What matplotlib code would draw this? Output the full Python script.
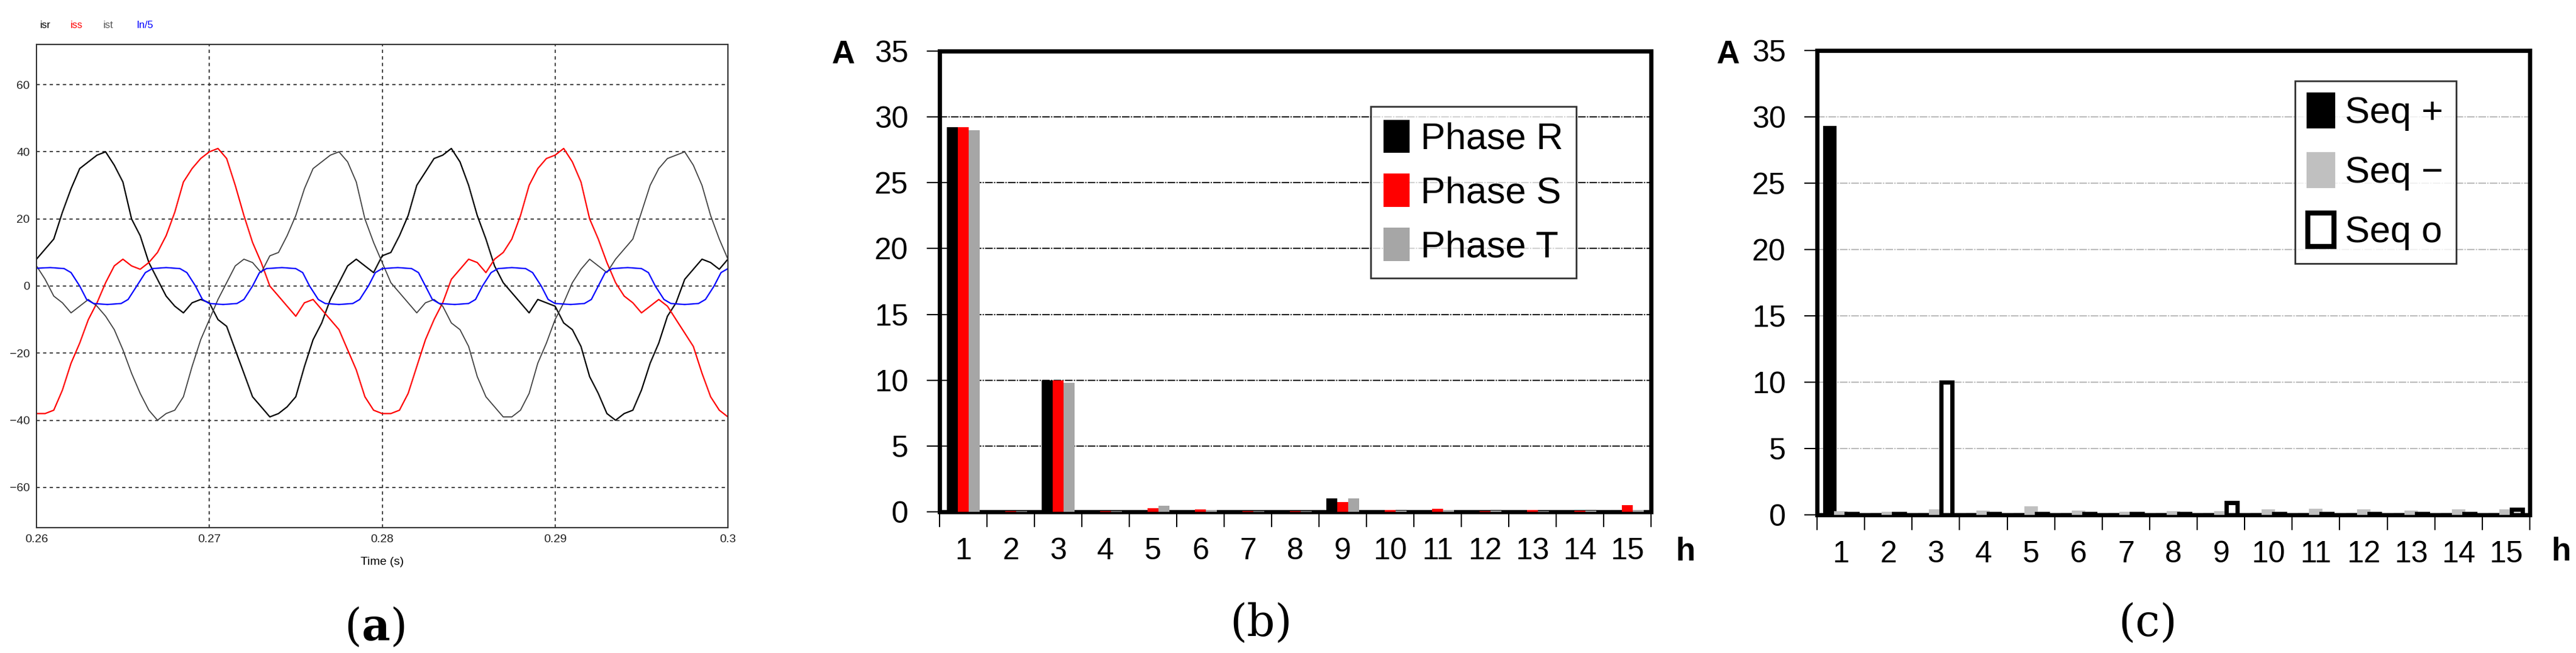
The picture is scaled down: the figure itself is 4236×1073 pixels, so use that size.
import numpy as np
import matplotlib
matplotlib.use("Agg")
import matplotlib.pyplot as plt
from matplotlib.patches import Patch

plt.rcParams['mathtext.fontset'] = 'dejavuserif'
W, H = 4236, 1073
NARROW = ['Liberation Sans Narrow', 'Liberation Sans', 'DejaVu Sans']

# ---------------- data (a) ----------------
t_ms = np.arange(81) * 0.5 + 260.0   # sample times in ms
isr = [8,11,14,22,29,35,37,39, 40,36,31,20,15,7,2,-3,-6,-8,-5,-4,-5,-10,-12,-19,-26,-33,-36,-39,-38,-36,-33,-24,-16,-11,-4,1,6,8,6,4,
       9,10,15,21,30,34,38,39, 41,37,30,21,14,6,1,-2,-5,-8,-4,-5,-6,-11,-13,-18,-27,-32,-38,-40,-38,-37,-31,-23,-17,-9,-5,2,5,8,7,5, 8]
iss = [-38,-38,-37,-31,-23,-17,-10,-5,1,6,8,6,5,7,10,15,22,31,35,38,40,
       41,38,30,21,13,7,0,-3,-6,-9,-5,-4,-7,-10,-13,-19,-25,-33,-37,-38,-38,-37,-32,-24,-16,-10,-5,2,5,8,7,4,8,10,14,21,30,35,38,39,
       41,37,31,20,14,7,1,-3,-5,-8,-6,-4,-6,-10,-14,-18,-26,-33,-37,-39]
ist = [6,2,-3,-5,-8,-6,-4,-6,-9,-13,-19,-26,-32,-37,-40,-38,-37,-33,-24,-16,-10,-4,1,6,8,7,4,9,10,15,21,29,35,37,39,
       40,37,31,20,13,7,1,-2,-5,-8,-5,-4,-6,-11,-13,-18,-27,-33,-36,-39,-39,-37,-32,-23,-17,-10,-5,1,5,8,6,4,8,11,14,22,30,35,38,39,
       40,36,30,21,14,8]
in5_t = [260.0,260.8,261.6,262.0,262.5,262.9,263.3,264.1,264.9,265.3,265.8,266.3,266.7,267.5,268.3,268.7,269.2,269.6,270.0,270.8,
         271.6,272.0,272.5,272.9,273.3,274.2,275.0,275.4,275.8,276.3,276.7,277.5,278.3,278.7,279.2,279.6,280.0,280.9,281.7,282.1,
         282.5,282.9,283.3,284.2,285.0,285.4,285.8,286.3,286.7,287.5,288.3,288.7,289.2,289.6,290.0,290.9,291.7,292.1,292.5,292.9,
         293.3,294.2,295.0,295.4,295.8,296.3,296.7,297.5,298.3,298.7,299.2,299.6,300.0]
in5_v = [5.3,5.5,5.2,4,0,-4,-5.2,-5.5,-5.2,-4,0,4,5.2,5.5,5.2,4,0,-4,-5.2,-5.5,
         -5.2,-4,0,4,5.2,5.5,5.2,4,0,-4,-5.2,-5.5,-5.2,-4,0,4,5.2,5.5,5.2,4,
         0,-4,-5.2,-5.5,-5.2,-4,0,4,5.2,5.5,5.2,4,0,-4,-5.2,-5.5,-5.2,-4,0,4,
         5.2,5.5,5.2,4,0,-4,-5.2,-5.5,-5.2,-4,0,4,5.2]

# ---------------- data (b), (c) ----------------
harm = list(range(1, 16))
phase_R = [29.2,0.05,10.0,0.05,0.1,0.1,0.05,0.05,1.0,0.1,0.1,0.05,0.05,0.05,0.15]
phase_S = [29.2,0.05,10.0,0.05,0.3,0.2,0.05,0.05,0.75,0.15,0.25,0.05,0.15,0.1,0.5]
phase_T = [29.0,0.05,9.8,0.05,0.45,0.15,0.05,0.05,1.0,0.1,0.15,0.1,0.05,0.1,0.15]
seq_pos = [29.2,0.05,0.05,0.05,0.05,0.05,0.05,0.05,0.05,0.05,0.05,0.05,0.05,0.05,0.05]
seq_neg = [0.2,0.15,0.3,0.25,0.55,0.25,0.15,0.2,0.2,0.3,0.35,0.3,0.25,0.3,0.3]
seq_zero = [0.1,0.1,10.0,0.1,0.1,0.1,0.1,0.1,0.9,0.1,0.1,0.1,0.1,0.1,0.4]

fig = plt.figure(figsize=(W/100, H/100), dpi=100)

def ftxt(x, y, s, **kw):
    fig.text(x/W, 1-y/H, s, **kw)

def axpos(l, r, t, b):
    return [l/W, 1-b/H, (r-l)/W, (b-t)/H]

# ---------------- panel (a) ----------------
ax = fig.add_axes(axpos(60, 1197, 73, 867))
tt = np.array(t_ms)/1000
ax.plot(tt, isr, color='black', lw=1.6)
ax.plot(tt, iss, color='red', lw=1.6)
ax.plot(tt, ist, color='#404040', lw=1.3)
ax.plot(np.array(in5_t)/1000, in5_v, color='blue', lw=1.6)
ax.set_xlim(0.26, 0.30)
ax.set_ylim(-72, 72)
ax.set_xticks([0.26,0.27,0.28,0.29,0.30])
ax.set_xticklabels(['0.26','0.27','0.28','0.29','0.3'])
ax.set_yticks([-60,-40,-20,0,20,40,60])
ax.grid(True, color='#333333', ls=(0,(3,3)), lw=1.3)
ax.tick_params(length=0, labelsize=14, colors='#222222', pad=8)
for lab in ax.get_xticklabels()+ax.get_yticklabels():
    lab.set_family(NARROW)
for s in ax.spines.values():
    s.set_color('#333333'); s.set_linewidth(1.5)
ax.set_xlabel('Time (s)', fontsize=14, family=NARROW, labelpad=14)
for x, s, c in [(66,'isr','black'),(116,'iss','red'),(170,'ist','#555555'),(225,'In/5','blue')]:
    ftxt(x, 42, s, color=c, fontsize=12, family=NARROW, va='center')
ftxt(616, 1031, r'($\mathbf{a}$)', fontsize=52, family='DejaVu Serif', ha='center', va='center')

def bar_panel(pos, series, colors, edges, lws, labels, gridc, leg_anchor, handles_style, lspace):
    ax = fig.add_axes(pos)
    x = np.array(harm)
    w = 0.23
    for i, (vals, c, ec, lw) in enumerate(zip(series, colors, edges, lws)):
        ax.bar(x + (i-1)*w, vals, width=w, color=c, edgecolor=ec, linewidth=lw, zorder=3)
    ax.set_xlim(0.5, 15.5)
    ax.set_ylim(0, 35)
    ax.set_yticks(range(0, 36, 5))
    ax.set_xticks(np.arange(0.5, 16, 1))
    ax.set_xticklabels([])
    ax.set_xticks(x, minor=True)
    ax.set_xticklabels([str(h) for h in harm], minor=True)
    ax.tick_params(axis='x', which='major', length=18, width=1.5, direction='out')
    ax.tick_params(axis='x', which='minor', length=0, pad=30, labelsize=36)
    ax.tick_params(axis='y', length=15, width=1.5, direction='out', labelsize=36, pad=22)
    for lab in ax.get_xticklabels(minor=True)+ax.get_yticklabels():
        lab.set_family(NARROW)
    ax.yaxis.grid(True, color=gridc, ls=(0,(6,1,1,1)), lw=1.5, zorder=0)
    for s in ax.spines.values():
        s.set_linewidth(5)
    leg = ax.legend(handles=handles_style, labels=labels, loc='upper right', bbox_to_anchor=leg_anchor,
                    prop={'family': NARROW, 'size': 44}, frameon=True, fancybox=False,
                    edgecolor='black', handlelength=0.7, handleheight=1.0, handletextpad=0.3,
                    labelspacing=lspace, borderpad=0.35)
    leg.get_frame().set_linewidth(2)
    return ax

hb = [Patch(facecolor='black'), Patch(facecolor='red'), Patch(facecolor='#a6a6a6')]
bar_panel(axpos(1545, 2715, 84, 841), [phase_R, phase_S, phase_T], ['black','red','#a6a6a6'],
          ['black','red','#a6a6a6'], [0,0,0], ['Phase R','Phase S','Phase T'], '#222222', (0.921, 0.92), hb, 0.45)
ftxt(1387, 90, 'A', fontsize=38, weight='bold', family=NARROW, ha='center', va='center')
ftxt(2771, 907, 'h', fontsize=38, weight='bold', family=NARROW, ha='center', va='center')
ftxt(2074, 1024, '(b)', fontsize=52, family='DejaVu Serif', ha='center', va='center')

hc = [Patch(facecolor='black', edgecolor='black', lw=3),
      Patch(facecolor='#c0c0c0', edgecolor='#c0c0c0', lw=3),
      Patch(facecolor='white', edgecolor='black', lw=6)]
bar_panel(axpos(2988, 4160, 83, 846), [seq_pos, seq_neg, seq_zero], ['black','#c0c0c0','white'],
          ['black','#c0c0c0','black'], [3,3,5], ['Seq +','Seq \u2212','Seq o'], '#bbbbbb', (0.923, 0.975), hc, 0.6)
ftxt(2842, 90, 'A', fontsize=38, weight='bold', family=NARROW, ha='center', va='center')
ftxt(4211, 907, 'h', fontsize=38, weight='bold', family=NARROW, ha='center', va='center')
ftxt(3532, 1024, '(c)', fontsize=52, family='DejaVu Serif', ha='center', va='center')

fig.savefig('out.png', dpi=100)
